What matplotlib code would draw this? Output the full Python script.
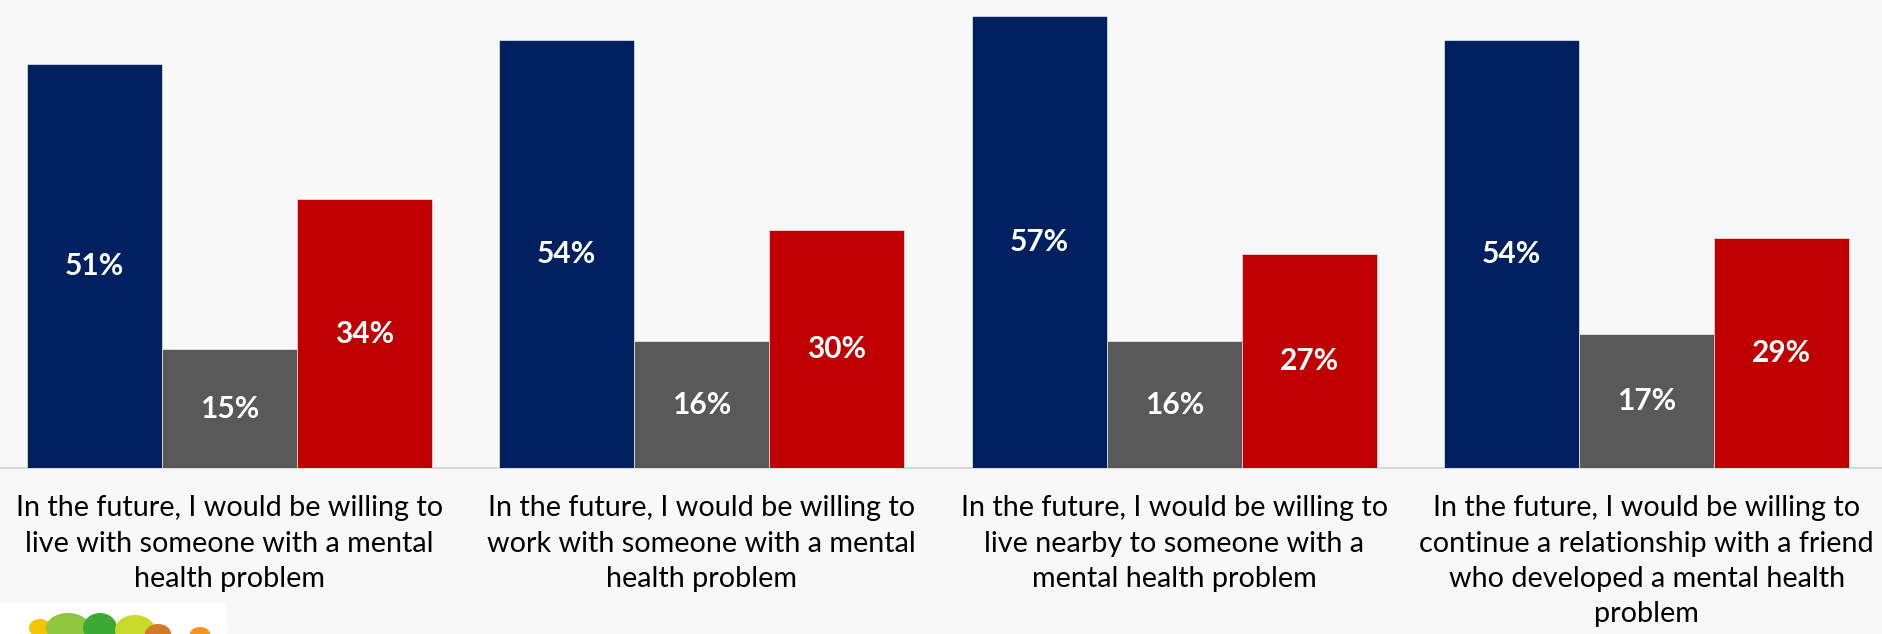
import matplotlib
matplotlib.use("Agg")
import matplotlib.pyplot as plt
from matplotlib.patches import Rectangle, Ellipse

# Survey statements (x-axis categories), one wrapped label each.
categories = [
    "In the future, I would be willing to\nlive with someone with a mental\nhealth problem",
    "In the future, I would be willing to\nwork with someone with a mental\nhealth problem",
    "In the future, I would be willing to\nlive nearby to someone with a\nmental health problem",
    "In the future, I would be willing to\ncontinue a relationship with a friend\nwho developed a mental health\nproblem",
]

# Percent of respondents per answer group.
agree = [51, 54, 57, 54]
neutral = [15, 16, 16, 17]
disagree = [34, 30, 27, 29]

NAVY = "#002060"
GREY = "#595959"
RED = "#C00000"
BG = "#F8F8F8"

plt.rcParams["font.family"] = ["Lato", "DejaVu Sans"]

fig = plt.figure(figsize=(18.83, 6.34), dpi=100, facecolor=BG)
ax = fig.add_axes([-7 / 1883, 1 - 468.3 / 634, 1890 / 1883, 468.3 / 634])
ax.set_facecolor(BG)

width = 2 / 7
series = [(agree, NAVY, -width), (neutral, GREY, 0.0), (disagree, RED, width)]
for vals, color, off in series:
    xs = [i + off for i in range(len(vals))]
    bars = ax.bar(xs, vals, width=width, color=color,
                  edgecolor="#ffffff", linewidth=0.4, zorder=3)
    for b, v in zip(bars, vals):
        ax.text(b.get_x() + b.get_width() / 2, v / 2, f"{v}%",
                ha="center", va="center", color="white",
                fontsize=21.5, fontweight="bold", zorder=4)

ax.set_xlim(-0.5, len(categories) - 0.5)
ax.set_ylim(0, 59.06)
for side in ("top", "right", "left"):
    ax.spines[side].set_visible(False)
ax.spines["bottom"].set_color("#D9D9D9")
ax.spines["bottom"].set_linewidth(1.5)
ax.set_yticks([])
ax.set_xticks([])

# Category captions under each group.
for i, label in enumerate(categories):
    ax.text(i, -0.058, label, transform=ax.get_xaxis_transform(),
            ha="center", va="top", fontsize=20.7, color="black",
            linespacing=1.44, clip_on=False)

# Small logo strip in the bottom-left corner.
fig.patches.append(Rectangle((0, 0), 227 / 1883, 31 / 634,
                             transform=fig.transFigure, facecolor="white",
                             edgecolor="none", zorder=5))
blobs = [
    (40, 6, 22, 18, "#F2C500"),
    (68, 6, 44, 30, "#8DC63F"),
    (100, 6, 34, 30, "#3AAA35"),
    (135, 4, 40, 30, "#C8D92B"),
    (158, 0, 26, 20, "#D07A2A"),
    (200, 0, 20, 14, "#F7941D"),
]
for x, y, w, h, c in blobs:
    fig.patches.append(Ellipse((x / 1883, y / 634), w / 1883, h / 634,
                               transform=fig.transFigure, facecolor=c,
                               edgecolor="none", zorder=6))

fig.savefig("out.png", dpi=100, facecolor=BG)
